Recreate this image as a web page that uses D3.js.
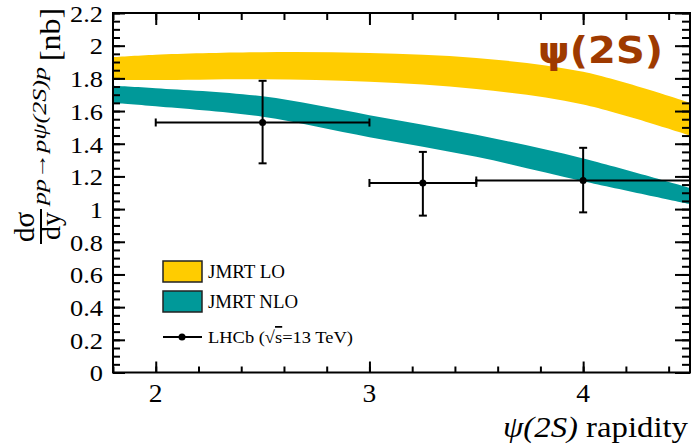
<!DOCTYPE html>
<html><head><meta charset="utf-8">
<script src="https://cdn.jsdelivr.net/npm/d3@7"></script>
<style>body{margin:0;background:#fff}svg{display:block}</style>
</head><body>
<script>
// Data
const bandX = [1.8, 2.0, 2.5, 3.0, 3.5, 4.0, 4.5];
const loUpper = [1.93, 1.945, 1.96, 1.955, 1.925, 1.84, 1.65];
const loLower = [1.79, 1.79, 1.795, 1.78, 1.735, 1.64, 1.45];
const nloUpper = [1.755, 1.74, 1.69, 1.575, 1.455, 1.31, 1.13];
const nloLower = [1.65, 1.63, 1.565, 1.44, 1.32, 1.17, 1.03];
const ptX = [2.5, 3.25, 4.0];
const ptY = [1.53, 1.16, 1.175];
const ptXlo = [2.0, 3.0, 3.5];
const ptXhi = [3.0, 3.5, 4.5];
const ptYlo = [1.28, 0.96, 0.98];
const ptYhi = [1.785, 1.35, 1.375];
const xTickLabels = [2, 3, 4];
const yTickLabels = [0, 0.2, 0.4, 0.6, 0.8, 1, 1.2, 1.4, 1.6, 1.8, 2, 2.2];
const legendLabels = ["JMRT LO", "JMRT NLO"];

const W = 694, H = 444;
const m = {l: 113, r: 690, t: 13, b: 372.5};
const svg = d3.select("body").append("svg").attr("width", W).attr("height", H);
const x = d3.scaleLinear().domain([1.8, 4.5]).range([m.l, m.r]);
const y = d3.scaleLinear().domain([0, 2.2]).range([m.b, m.t]);
const serif = "'Liberation Serif','Times New Roman',serif";
const SX = 1.1;

function band(up, lo, color) {
  const d = bandX.map((v, i) => ({x: v, u: up[i], l: lo[i]}));
  svg.append("path").datum(d)
    .attr("d", d3.area().curve(d3.curveCatmullRom.alpha(0.5)).x(p => x(p.x)).y0(p => y(p.l)).y1(p => y(p.u)))
    .attr("fill", color);
}
band(loUpper, loLower, "#FFCC00");
band(nloUpper, nloLower, "#009999");

// Data points
const g = svg.append("g").attr("stroke", "#000").attr("stroke-width", 2);
ptX.forEach((v, i) => {
  g.append("line").attr("x1", x(ptXlo[i])).attr("x2", x(ptXhi[i])).attr("y1", y(ptY[i])).attr("y2", y(ptY[i]));
  g.append("line").attr("x1", x(v)).attr("x2", x(v)).attr("y1", y(ptYlo[i])).attr("y2", y(ptYhi[i]));
  [ptYlo[i], ptYhi[i]].forEach(yy => g.append("line").attr("x1", x(v) - 4).attr("x2", x(v) + 4).attr("y1", y(yy)).attr("y2", y(yy)));
  [ptXlo[i], ptXhi[i]].forEach(xx => g.append("line").attr("x1", x(xx)).attr("x2", x(xx)).attr("y1", y(ptY[i]) - 4).attr("y2", y(ptY[i]) + 4));
  g.append("circle").attr("cx", x(v)).attr("cy", y(ptY[i])).attr("r", 3.5).attr("fill", "#000").attr("stroke", "none");
});

// Axes ticks
const yMinor = d3.range(0, 2.2001, 0.05);
const xMinor = d3.range(1.8, 4.5001, 0.2);
const gl = svg.append("g").attr("transform", `translate(${m.l},0)`);
gl.call(d3.axisLeft(y).tickValues(yMinor).tickSize(-7).tickFormat(""));
const gl2 = svg.append("g").attr("transform", `translate(${m.l},0)`);
gl2.call(d3.axisLeft(y).tickValues(yTickLabels).tickSize(-12).tickFormat(""));
const gr = svg.append("g").attr("transform", `translate(${m.r},0)`);
gr.call(d3.axisRight(y).tickValues(yMinor).tickSize(-8).tickFormat(""));
const gr2 = svg.append("g").attr("transform", `translate(${m.r},0)`);
gr2.call(d3.axisRight(y).tickValues(yTickLabels).tickSize(-15).tickFormat(""));
const gb = svg.append("g").attr("transform", `translate(0,${m.b})`);
gb.call(d3.axisBottom(x).tickValues(xMinor).tickSize(-6).tickFormat(""));
const gb2 = svg.append("g").attr("transform", `translate(0,${m.b})`);
gb2.call(d3.axisBottom(x).tickValues(xTickLabels).tickSize(-11).tickFormat(""));
const gt = svg.append("g").attr("transform", `translate(0,${m.t})`);
gt.call(d3.axisTop(x).tickValues(xMinor).tickSize(-7).tickFormat(""));
const gt2 = svg.append("g").attr("transform", `translate(0,${m.t})`);
gt2.call(d3.axisTop(x).tickValues(xTickLabels).tickSize(-12).tickFormat(""));
[gl, gl2, gr, gr2, gb, gb2, gt, gt2].forEach(a => {
  a.select(".domain").remove();
  a.selectAll("text").remove();
  a.selectAll("line").attr("stroke", "#000").attr("stroke-width", 2);
});

// Frame
svg.append("rect").attr("x", m.l).attr("y", m.t).attr("width", m.r - m.l).attr("height", m.b - m.t)
  .attr("fill", "none").attr("stroke", "#000").attr("stroke-width", 2);

// Tick labels
svg.append("g").selectAll("text").data(yTickLabels).join("text")
  .attr("transform", d => `translate(103,${y(d) + 8.8}) scale(${SX},1)`).attr("text-anchor", "end")
  .attr("font-family", serif).attr("font-size", 24).text(d => d);
svg.append("g").selectAll("text").data(xTickLabels).join("text")
  .attr("transform", d => `translate(${x(d)},402) scale(${SX},1)`).attr("text-anchor", "middle")
  .attr("font-family", serif).attr("font-size", 25).text(d => d);

// X title
const xt = svg.append("text").attr("x", 503).attr("y", 437)
  .attr("font-family", serif).attr("font-size", 30).attr("textLength", 185).attr("lengthAdjust", "spacingAndGlyphs");
xt.append("tspan").attr("font-style", "italic").text("ψ(2S)");
xt.append("tspan").text(" rapidity");

// Y title
const yt = svg.append("g").attr("transform", "translate(0,227) rotate(-90)");
yt.append("text").attr("x", 0).attr("y", 34).attr("text-anchor", "middle")
  .attr("font-family", serif).attr("font-size", 29).text("dσ");
yt.append("line").attr("x1", -17).attr("x2", 18).attr("y1", 41).attr("y2", 41).attr("stroke", "#000").attr("stroke-width", 2);
yt.append("text").attr("x", 1).attr("y", 60).attr("text-anchor", "middle")
  .attr("font-family", serif).attr("font-size", 28).text("dy");
yt.append("text").attr("x", 22).attr("y", 46).attr("font-family", serif).attr("font-style", "italic")
  .attr("font-size", 19).attr("textLength", 138).attr("lengthAdjust", "spacingAndGlyphs").text("pp→pψ(2S)p");
yt.append("text").attr("x", 166).attr("y", 60).attr("font-family", serif)
  .attr("font-size", 29).attr("textLength", 53).attr("lengthAdjust", "spacingAndGlyphs").text("[nb]");

// Title
svg.append("text").attr("x", 538).attr("y", 63).attr("font-family", "'DejaVu Sans',Verdana,sans-serif")
  .attr("font-weight", "bold").attr("font-size", 38).attr("fill", "#9E3A00")
  .attr("textLength", 125).attr("lengthAdjust", "spacingAndGlyphs").text("ψ(2S)");

// Legend
const legColors = ["#FFCC00", "#009999"];
const legY = [261, 291];
const legW = [77, 90];
legendLabels.forEach((t, i) => {
  svg.append("rect").attr("x", 163).attr("y", legY[i]).attr("width", 39).attr("height", 21)
    .attr("fill", legColors[i]).attr("stroke", "#222").attr("stroke-width", 1.5);
  svg.append("text").attr("x", 208).attr("y", legY[i] + 17).attr("font-family", serif)
    .attr("font-size", 18.5).attr("textLength", legW[i]).attr("lengthAdjust", "spacingAndGlyphs").text(t);
});
svg.append("line").attr("x1", 163).attr("x2", 202).attr("y1", 337).attr("y2", 337).attr("stroke", "#000").attr("stroke-width", 2);
svg.append("circle").attr("cx", 182).attr("cy", 337).attr("r", 3.5).attr("fill", "#000");
const lt = svg.append("text").attr("x", 208).attr("y", 343).attr("font-family", serif).attr("font-size", 17.5)
  .attr("textLength", 145).attr("lengthAdjust", "spacingAndGlyphs");
lt.append("tspan").text("LHCb (");
lt.append("tspan").text("√");
lt.append("tspan").attr("text-decoration", "overline").text("s");
lt.append("tspan").text("=13 TeV)");
</script>
</body></html>
